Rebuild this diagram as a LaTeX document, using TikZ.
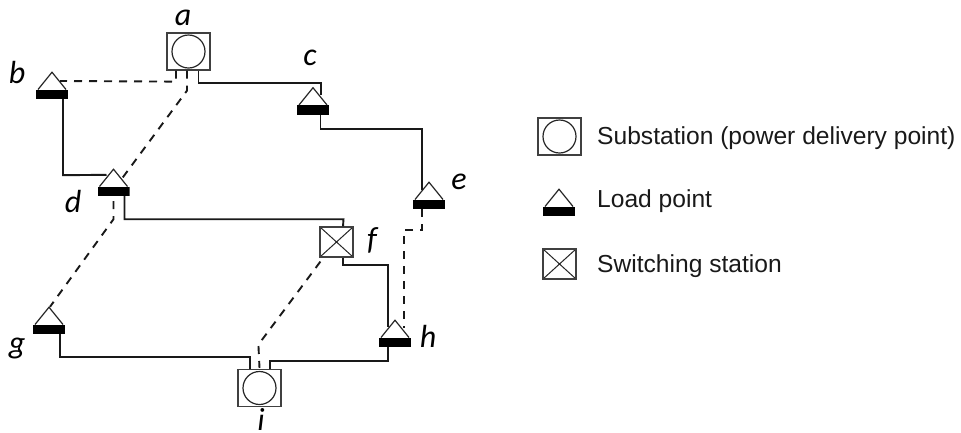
\documentclass[tikz,border=0pt]{standalone}
\usepackage{fontspec}
\setmainfont{Liberation Sans}
\newfontfamily\labelfont{Carlito}
\tikzset{
  box/.style={draw=black!75,line width=1.2pt,inner sep=0pt},
  substation/.style={box,minimum width=43pt,minimum height=37pt,
    path picture={\draw[line width=1.2pt,black!85] (path picture bounding box.center) circle (16.5pt);}},
  switching/.style={box,minimum width=33pt,minimum height=30pt,
    path picture={\draw[line width=1pt,black!85] (path picture bounding box.south west) -- (path picture bounding box.north east)
      (path picture bounding box.north west) -- (path picture bounding box.south east);}},
  load/.style={inner sep=0pt,minimum width=32pt,minimum height=28pt,
    path picture={
      \fill[black] ([yshift=0pt]path picture bounding box.south west) rectangle ([yshift=9.5pt]path picture bounding box.south east);
      \draw[line width=1.2pt,black!85,line join=miter] ([xshift=2pt,yshift=9.5pt]path picture bounding box.south west)
        -- ([yshift=-1.2pt]path picture bounding box.north) -- ([xshift=-2pt,yshift=9.5pt]path picture bounding box.south east);}},
  feeder/.style={line width=1.9pt,black!90},
  tie/.style={line width=1.9pt,black!90,dash pattern=on 8pt off 7pt},
  tag/.style={inner sep=0pt,font=\fontsize{32}{32}\labelfont\itshape},
  legend/.style={anchor=west,inner sep=0pt,font=\fontsize{24.6}{28}\selectfont,text=black!90}
}
\begin{document}
\begin{tikzpicture}[x=1pt,y=-1pt]
\useasboundingbox (0,0) rectangle (961,432);
% stations
\node[substation] (a) at (188.5,51.5) {};
\node[load] (b) at (52,85) {};
\node[load] (c) at (313,100.5) {};
\node[load] (d) at (113.5,182) {};
\node[load] (e) at (429,195) {};
\node[switching] (f) at (336.5,242) {};
\node[load] (g) at (49,320) {};
\node[load] (h) at (395,333) {};
\node[substation] (i) at (259.5,388) {};
% closed lines
\draw[feeder] ([xshift=10pt]a.south) -- ++(0,12) -- ++(122.5,0) -- ([xshift=8pt,yshift=-9pt]c.north);
\draw[feeder] ([xshift=7.5pt]c.south) -- ++(0,14) -- ++(101.5,0) -- ([xshift=-7pt,yshift=-9pt]e.north);
\draw[feeder] ([xshift=11pt]b.south) -- ++(0,76) -- ([xshift=-7pt,yshift=-7pt]d.north);
\draw[feeder] ([xshift=11pt]d.south) -- ++(0,23) -- ++(219,0) -- ([xshift=6.5pt]f.north);
\draw[feeder] ([xshift=6.5pt]f.south) -- ++(0,7) -- ++(45,0) -- ([xshift=-7pt,yshift=-8pt]h.north);
\draw[feeder] ([xshift=11pt]g.south) -- ++(0,23) -- ++(190,0) -- ([xshift=-9.5pt]i.north);
\draw[feeder] ([xshift=-7pt]h.south) -- ++(0,14) -- ++(-118,0) -- ([xshift=10.5pt]i.north);
% open lines
\draw[tie] ([xshift=-12.5pt]a.south) -- ++(0,11) -- ([xshift=-8pt,yshift=4pt]b.east);
\draw[tie] ([xshift=-1.5pt]a.south) -- ++(0,20) -- ([xshift=9pt,yshift=-10pt]d.north);
\draw[tie] ([yshift=-5pt]d.south) -- ++(0,18) -- ([xshift=1pt,yshift=-1pt]g.north);
\draw[tie] ([xshift=1pt,yshift=-4pt]f.south west) -- ++(-62,83) -- ([yshift=1pt]i.north);
\draw[tie] ([xshift=-7pt]e.south) -- ++(0,21) -- ++(-18,0) -- ([xshift=9pt,yshift=-9pt]h.north);
% names
\node[tag] (ta) at (183,18) {a};
\node[tag] (tb) at (17,72) {b};
\node[tag] (tc) at (310,58) {c};
\node[tag] (td) at (73,201) {d};
\node[tag] (te) at (459,182) {e};
\node[tag] (tf) at (372,240) {f};
\node[tag] (tg) at (17,348) {g};
\node[tag] (th) at (428,336) {h};
\node[tag] (ti) at (261,419.5) {i};
% legend
\node[substation] (ka) at (559.5,136.5) {};
\node[load] (kb) at (559,202) {};
\node[switching] (kc) at (559.5,264) {};
\node[legend] (ta2) at (597,138) {Substation (power delivery point)};
\node[legend] (tb2) at (597,201) {Load point};
\node[legend] (tc2) at (597,266) {Switching station};
\end{tikzpicture}
\end{document}
